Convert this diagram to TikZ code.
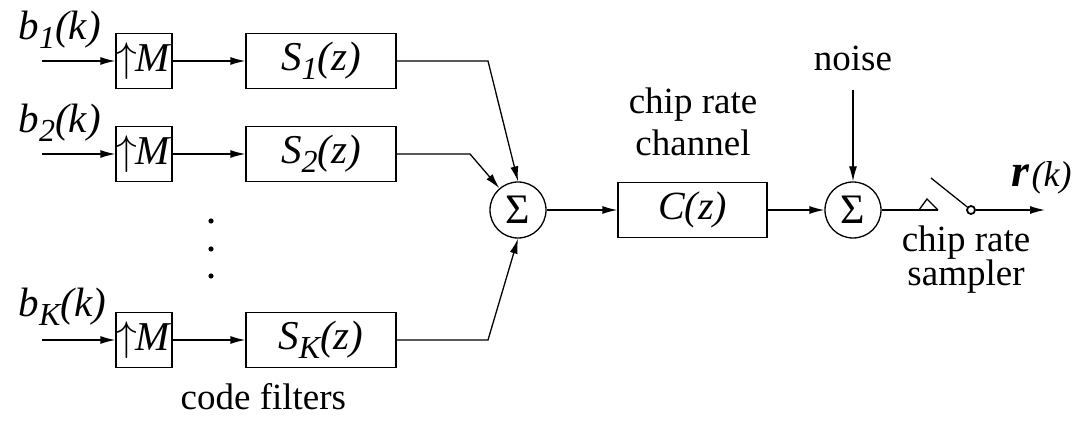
\documentclass[tikz,border=0pt]{standalone}
\usepackage{fontspec}
\setmainfont{Liberation Serif}
\usetikzlibrary{arrows.meta}
\newcommand{\lowsub}[1]{\raisebox{-4.5pt}{\fontsize{16}{16}\selectfont\itshape #1}}
\begin{document}
\begin{tikzpicture}[x=0.5pt,y=-0.5pt,
  line width=0.65pt,
  txt/.style={font=\fontsize{18.5}{21}\selectfont, inner sep=0pt},
  mtxt/.style={font=\fontsize{20.5}{23}\selectfont, inner sep=0pt},
  mbox/.style={draw, minimum width=28pt, minimum height=27.5pt, inner sep=0pt, font=\fontsize{20.5}{23}\selectfont},
  sbox/.style={draw, minimum width=75pt, minimum height=27.5pt, inner sep=0pt, font=\fontsize{20.5}{23}\selectfont},
  sumnode/.style={draw, circle, minimum size=28pt, inner sep=0pt, font=\fontsize{21}{22}\selectfont},
  arr/.style={-{Latex[length=7.5pt,width=4pt]}},
  dotnode/.style={circle, fill, inner sep=0pt, minimum size=2.6pt}
]
\useasboundingbox (0,0) rectangle (1077,432);

% row 1
\coordinate (in1) at (42,61);
\node[mbox] (m1) at (144,61) {$\uparrow$\kern-1pt\textit{M}};
\node[sbox] (s1) at (321,61) {\textit{S\lowsub{1}(z)}};
\node[mtxt, anchor=base west] (lb1) at (18,40) {\textit{b\lowsub{1}(k)}};
\draw[arr] (in1) -- (m1);
\draw[arr] (m1) -- (s1);

% row 2
\coordinate (in2) at (42,154);
\node[mbox] (m2) at (144,154) {$\uparrow$\kern-1pt\textit{M}};
\node[sbox] (s2) at (321,154) {\textit{S\lowsub{2}(z)}};
\node[mtxt, anchor=base west] (lb2) at (18,133) {\textit{b\lowsub{2}(k)}};
\draw[arr] (in2) -- (m2);
\draw[arr] (m2) -- (s2);

% row K
\coordinate (inK) at (42,340);
\node[mbox] (mK) at (144,340) {$\uparrow$\kern-1pt\textit{M}};
\node[sbox] (sK) at (321,340) {\textit{S\lowsub{K}(z)}};
\node[mtxt, anchor=base west] (lbK) at (18,317) {\textit{b\lowsub{K}(k)}};
\draw[arr] (inK) -- (mK);
\draw[arr] (mK) -- (sK);

% dots
\node[dotnode] (d1) at (211,221) {};
\node[dotnode] (d2) at (211,249) {};
\node[dotnode] (d3) at (211,276) {};

\node[txt, anchor=base west] (cf) at (180,410) {code filters};

% first summer
\node[sumnode] (sum1) at (518,210) {Σ};
\coordinate (k1) at (488,61);
\coordinate (k2) at (470,154);
\coordinate (kK) at (488,340);
\draw[arr] (s1.east) -- (k1) -- (sum1.north);
\draw[arr] (s2.east) -- (k2) -- (sum1);
\draw[arr] (sK.east) -- (kK) -- (sum1.south);

% channel
\node[sbox, minimum width=74.5pt, font=\fontsize{20}{23}\selectfont] (cz) at (692.5,210) {\textit{C(z)}};
\node[txt, align=center] (chl) at (693,122) {chip rate\\channel};
\draw[arr] (sum1) -- (cz);

% second summer
\node[sumnode] (sum2) at (853,210) {Σ};
\node[txt] (noise) at (853,58) {noise};
\coordinate (nz) at (853,90);
\draw[arr] (nz) -- (sum2.north);
\draw[arr] (cz.east) -- (sum2.west);

% sampler
\coordinate (t1) at (919,210);
\coordinate (t2) at (927,199);
\coordinate (t3) at (938,210);
\draw (sum2.east) -- (t3);
\draw (t1) -- (t2) -- (t3);
\node[draw, circle, inner sep=0pt, minimum size=4pt, line width=0.9pt] (sw) at (971,210) {};
\coordinate (lev) at (931,178);
\draw (lev) -- (sw);
\coordinate (out) at (1045,210);
\draw[arr] (sw) -- (out);
\node[inner sep=0pt, anchor=base west] (rk) at (1011,187) {{\fontsize{23}{23}\selectfont\bfseries\itshape r}\kern1pt{\fontsize{18}{18}\selectfont\itshape (k)}};
\node[txt, anchor=base] (smp1) at (966,252) {chip rate};
\node[txt, anchor=base] (smp2) at (966,286) {sampler};
\end{tikzpicture}
\end{document}
